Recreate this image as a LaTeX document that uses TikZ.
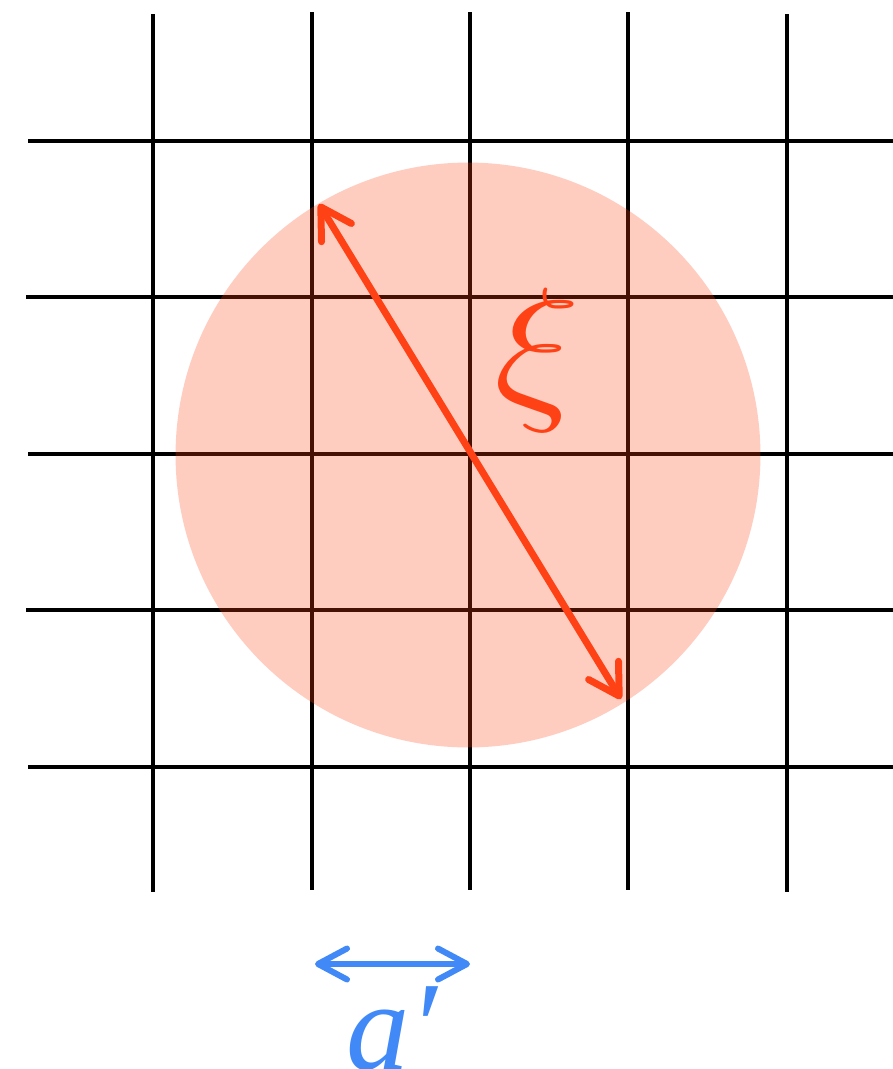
\documentclass[tikz,border=0pt]{standalone}
\usepackage{fix-cm}
\usepackage{fontspec}
\setmainfont{Liberation Serif}
\usepackage{tikz}
\usetikzlibrary{arrows.meta}
\definecolor{myred}{RGB}{255,66,22}
\definecolor{myblue}{RGB}{64,137,247}

\begin{document}
\begin{tikzpicture}[x=0.02cm,y=-0.02cm]
  \useasboundingbox (0,0) rectangle (893,1069);

  % lattice
  \draw[line width=0.08cm] (153,14)--(153,892);
  \draw[line width=0.08cm] (312,12)--(312,890);
  \draw[line width=0.08cm] (470,12)--(470,890);
  \draw[line width=0.08cm] (628,12)--(628,890);
  \draw[line width=0.08cm] (787,14)--(787,892);
  \draw[line width=0.08cm] (28,141)--(893,141);
  \draw[line width=0.08cm] (26,297)--(893,297);
  \draw[line width=0.08cm] (28,454)--(893,454);
  \draw[line width=0.08cm] (26,610)--(893,610);
  \draw[line width=0.08cm] (28,767)--(893,767);

  % correlation region
  \fill[myred, fill opacity=0.27] (468,455) circle[radius=5.85cm];

  \coordinate (xitop) at (319,204);
  \coordinate (xibot) at (621,699);
  \draw[line width=0.14cm, myred, {Straight Barb[length=0.6cm,width=0.7cm,round]}-{Straight Barb[length=0.6cm,width=0.7cm,round]}] (xitop)--(xibot);
  \node[myred, inner sep=0pt] (xi) at (538,360) {\fontsize{92}{92}\selectfont\scalebox{1.12}[1]{$\xi$}};

  % lattice spacing
  \coordinate (aleft) at (315,964);
  \coordinate (aright) at (470,964);
  \draw[line width=0.12cm, myblue, {Straight Barb[length=0.58cm,width=0.62cm,round]}-{Straight Barb[length=0.58cm,width=0.62cm,round]}] (aleft)--(aright);
  \node[myblue, anchor=base, inner sep=0pt] (aprime) at (392,1069) {\fontsize{72}{72}\selectfont\itshape a′};
\end{tikzpicture}
\end{document}
